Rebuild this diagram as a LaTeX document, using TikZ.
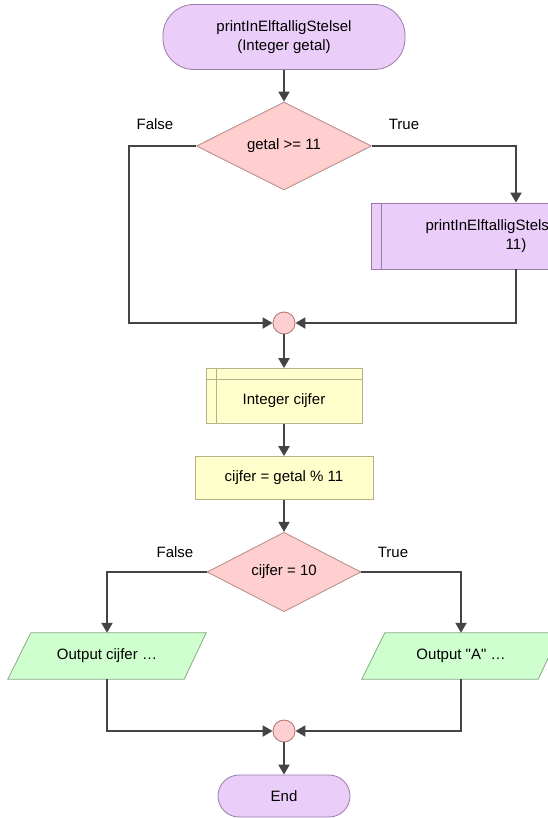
\documentclass[tikz,border=0pt]{standalone}
\usepackage{fontspec}
\setmainfont{Liberation Sans}[Ligatures=TeXOff]
\usetikzlibrary{shapes.geometric,arrows.meta}
\definecolor{linec}{HTML}{444444}
\definecolor{purfill}{HTML}{EBCDFA}
\definecolor{purline}{HTML}{9A7BA8}
\definecolor{redfill}{HTML}{FFCFCF}
\definecolor{redline}{HTML}{B88888}
\definecolor{yelfill}{HTML}{FFFFCC}
\definecolor{yelline}{HTML}{B8B08A}
\definecolor{grnfill}{HTML}{CFFFCF}
\definecolor{grnline}{HTML}{86AA86}
\definecolor{cirline}{HTML}{B07070}
\tikzset{
  x=1pt,y=-1pt,
  every node/.style={font=\fontsize{15}{19}\selectfont, text=black},
  terminal/.style={draw=purline, fill=purfill, line width=0.8pt, rectangle, rounded corners=31pt, align=center, inner sep=0pt},
  decision/.style={draw=redline, fill=redfill, line width=0.8pt, diamond, inner sep=0pt},
  subproc/.style={draw=purline, fill=purfill, line width=0.8pt, rectangle, align=center, inner sep=0pt},
  declbox/.style={draw=yelline, fill=yelfill, line width=0.8pt, rectangle, inner sep=0pt},
  procbox/.style={draw=yelline, fill=yelfill, line width=0.8pt, rectangle, inner sep=0pt},
  iotext/.style={inner sep=0pt, minimum width=176pt, minimum height=46pt},
  iofill/.style={draw=grnline, fill=grnfill, line width=0.8pt},
  junction/.style={circle, draw=cirline, fill=redfill, line width=0.8pt, minimum size=22pt, inner sep=0pt},
  flow/.style={draw=linec, line width=2pt, -{Triangle[width=11pt,length=10pt]}},
  lbl/.style={inner sep=0pt}
}
\begin{document}
\begin{tikzpicture}
\clip (0,0) rectangle (548,818);
\fill[white] (0,0) rectangle (548,818);
% nodes
\node[terminal, minimum width=242pt, minimum height=65pt] (start) at (284,37) {printInElftalligStelsel\\(Integer getal)};
\node[decision, minimum width=175pt, minimum height=82pt] (d1) at (284,146) {getal >= 11};
\node[subproc, minimum width=290pt, minimum height=66pt] (sub) at (516,236) {printInElftalligStelsel(getal /\\11)};
\draw[draw=purline, line width=0.8pt] ([xshift=11pt]sub.north west) -- ([xshift=11pt]sub.south west);
\node[junction] (j1) at (284,323) {};
\node[declbox, minimum width=156pt, minimum height=55pt] (decl) at (284,396) {};
\draw[draw=yelline, line width=0.8pt] ([xshift=11pt]decl.north west) -- ([xshift=11pt]decl.south west);
\draw[draw=yelline, line width=0.8pt] ([yshift=-11pt]decl.north west) -- ([yshift=-11pt]decl.north east);
\node at ([yshift=-5pt]decl.center) {Integer cijfer};
\node[procbox, minimum width=178pt, minimum height=43pt] (assign) at (284,478) {cijfer = getal \% 11};
\node[decision, minimum width=154pt, minimum height=76pt] (d2) at (284,572) {cijfer = 10};
\node[iotext] (o1) at (107,656) {};
\fill[iofill] ([xshift=12pt]o1.north west) -- ([xshift=11pt]o1.north east) -- ([xshift=-11pt]o1.south east) -- ([xshift=-11pt]o1.south west) -- cycle;
\node at (o1.center) {Output cijfer …};
\node[iotext] (o2) at (461,656) {};
\fill[iofill] ([xshift=12pt]o2.north west) -- ([xshift=11pt]o2.north east) -- ([xshift=-11pt]o2.south east) -- ([xshift=-11pt]o2.south west) -- cycle;
\node at (o2.center) {Output "A" …};
\node[junction] (j2) at (284,731) {};
\node[terminal, minimum width=132pt, minimum height=42pt, rounded corners=21pt] (end) at (284,796) {End};
% labels
\node[lbl] (f1) at (155,124) {False};
\node[lbl] (t1) at (404,124) {True};
\node[lbl] (f2) at (175,552) {False};
\node[lbl] (t2) at (393,552) {True};
% connectors
\draw[flow] (start) -- (d1);
\draw[flow] (d1.west) -| (129,323) -- (j1.west);
\draw[flow] (d1.east) -| (sub.north);
\draw[flow] (sub.south) |- (j1.east);
\draw[flow] (j1) -- (decl);
\draw[flow] (decl) -- (assign);
\draw[flow] (assign) -- (d2);
\draw[flow] (d2.west) -| (o1.north);
\draw[flow] (d2.east) -| (o2.north);
\draw[flow] (o1.south) |- (j2.west);
\draw[flow] (o2.south) |- (j2.east);
\draw[flow] (j2) -- (end);
\end{tikzpicture}
\end{document}
